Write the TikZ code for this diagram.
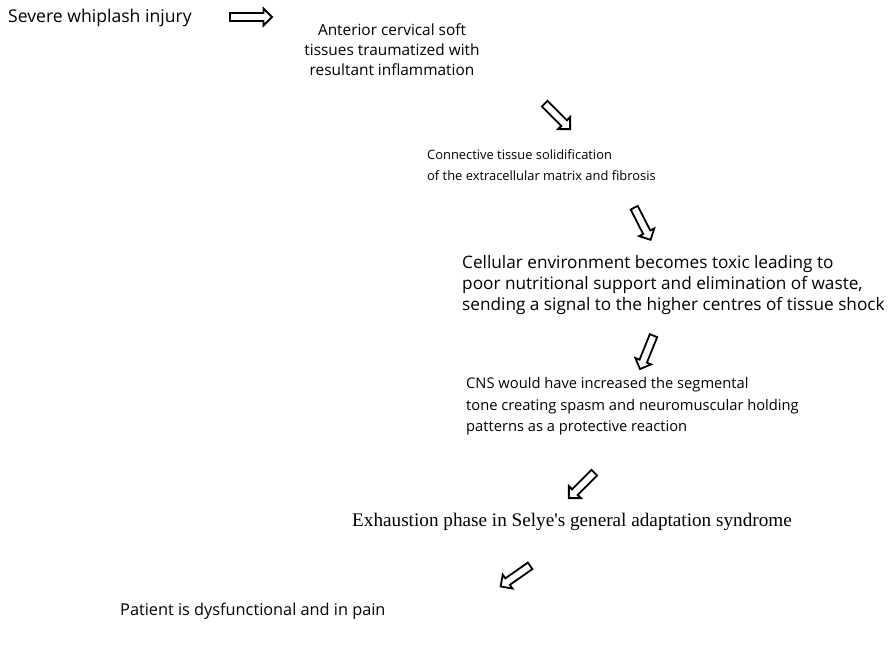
\documentclass[tikz,border=0pt]{standalone}
\usepackage{fontspec}
\setmainfont{Open Sans}
\newfontfamily\selyefont{Liberation Serif}
\usetikzlibrary{shapes.arrows}
\tikzset{
  txt/.style={inner sep=0pt,anchor=west,align=left},
  blockarr/.style={single arrow,draw,line width=1.8pt,minimum height=36pt,minimum width=17pt,
    single arrow head extend=4pt,inner sep=2.6pt}
}
\begin{document}
\begin{tikzpicture}[x=1pt,y=-1pt]
  \useasboundingbox (0,0) rectangle (893,665);

  \node[txt,font=\fontsize{17.6}{21}\selectfont] (sev) at (8,18) {Severe whiplash injury};
  \node[txt,align=center,anchor=center,font=\fontsize{15.4}{20}\selectfont] (ant) at (392,50) {Anterior cervical soft\\tissues traumatized with\\resultant inflammation};
  \node[txt,font=\fontsize{12.9}{21}\selectfont] (con) at (427,165.5) {Connective tissue solidification\\of the extracellular matrix and fibrosis};
  \node[txt,font=\fontsize{17.2}{21}\selectfont] (cel) at (462,285) {Cellular environment becomes toxic leading to\\poor nutritional support and elimination of waste,\\sending a signal to the higher centres of tissue shock};
  \node[txt,font=\fontsize{14.7}{21.5}\selectfont] (cns) at (466,406.5) {CNS would have increased the segmental\\tone creating spasm and neuromuscular holding\\patterns as a protective reaction};
  \node[txt,font=\fontsize{19.2}{21}\selyefont] (exh) at (352,522) {Exhaustion phase in Selye's general adaptation syndrome};
  \node[txt,font=\fontsize{16.3}{21}\selectfont] (pat) at (120,611) {Patient is dysfunctional and in pain};

  \node[blockarr,minimum height=42pt] (a1) at (249,17) {};
  \node[blockarr,rotate=-45] (a2) at (556,115) {};
  \node[blockarr,rotate=-63] (a3) at (641.5,222) {};
  \node[blockarr,rotate=-112] (a4) at (647.5,350.5) {};
  \node[blockarr,rotate=-135] (a5) at (583,484) {};
  \node[blockarr,rotate=-145] (a6) at (517,575) {};
\end{tikzpicture}
\end{document}
